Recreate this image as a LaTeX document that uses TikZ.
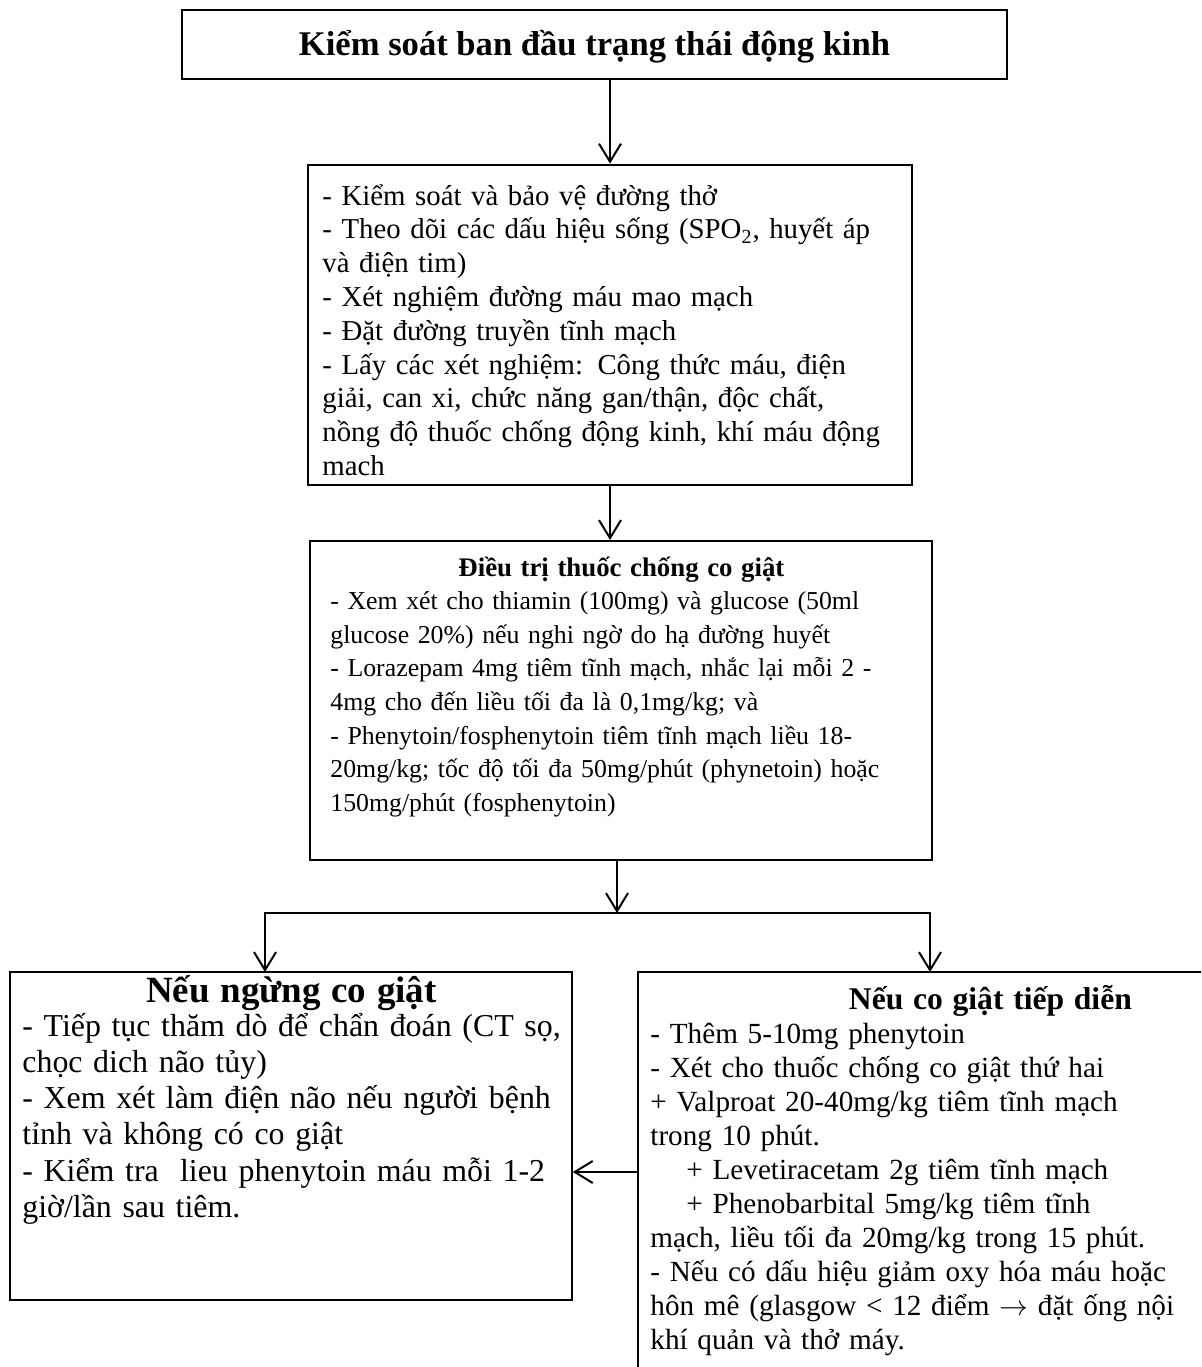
\documentclass[tikz,border=0pt]{standalone}
\usepackage{fontspec}
\setmainfont{Liberation Serif}
\usetikzlibrary{arrows.meta,fit}

\tikzset{
  box/.style={draw, inner sep=0pt, line width=#1},
  box/.default=1pt,
  txt/.style={inner sep=0pt, anchor=base west, align=left, text width=400pt},
  arr/.style={line width=1pt, -{Straight Barb[length=9pt,width=11pt,line width=1pt]}},
}

\begin{document}
\begin{tikzpicture}[x=0.5pt,y=-0.5pt]
  \useasboundingbox (0,0) rectangle (1201,1367);
  \clip (0,0) rectangle (1201,1367);

  % boxes
  \node[box=1.4pt, fit={(182,10) (1007,79)}] (start) {};
  \node[font=\fontsize{17.3}{20}\selectfont\bfseries] (title) at ([yshift=-1pt]start.center)
    {Kiểm soát ban đầu trạng thái động kinh};
  \node[box=1.4pt, fit={(308,165) (912,485)}] (care) {};
  \node[box=1pt, fit={(310,541) (932,860)}] (drug) {};
  \node[box=0.8pt, fit={(10,972) (572,1300)}] (stop) {};
  \node[box=0.8pt, fit={(638,972) (1342,1420)}] (cont) {};

  % texts
  \node[txt, font=\fontsize{14.4}{16.9}\selectfont] (caretxt) at (322,205)
    {- Kiểm soát và bảo vệ đường thở\\
     - Theo dõi các dấu hiệu sống (SPO\textsubscript{2}, huyết áp\\
     và điện tim)\\
     - Xét nghiệm đường máu mao mạch\\
     - Đặt đường truyền tĩnh mạch\\
     - Lấy các xét nghiệm: Công thức máu, điện\\
     giải, can xi, chức năng gan/thận, độc chất,\\
     nồng độ thuốc chống động kinh, khí máu động\\
     mach};
  \node[txt, font=\fontsize{12.9}{16.8}\selectfont] (drugtxt) at (330,576)
    {\makebox[291pt]{\fontsize{13.4}{16.8}\selectfont\bfseries Điều trị thuốc chống co giật}\\
     - Xem xét cho thiamin (100mg) và glucose (50ml\\
     glucose 20\%) nếu nghi ngờ do hạ đường huyết\\
     - Lorazepam 4mg tiêm tĩnh mạch, nhắc lại mỗi 2 -\\
     4mg cho đến liều tối đa là 0,1mg/kg; và\\
     - Phenytoin/fosphenytoin tiêm tĩnh mạch liều 18-\\
     20mg/kg; tốc độ tối đa 50mg/phút (phynetoin) hoặc\\
     150mg/phút (fosphenytoin)};
  \node[txt, font=\fontsize{15.95}{18.1}\selectfont] (stoptxt) at (22,1002)
    {\makebox[269pt]{\fontsize{18.5}{22}\selectfont\bfseries Nếu ngừng co giật}\\[-1pt]
     - Tiếp tục thăm dò để chẩn đoán (CT sọ,\\
     chọc dich não tủy)\\
     - Xem xét làm điện não nếu người bệnh\\
     tỉnh và không có co giật\\
     - Kiểm tra\ \ lieu phenytoin máu mỗi 1-2\\
     giờ/lần sau tiêm.};
  \node[txt, font=\fontsize{14.6}{17}\selectfont] (conttxt) at (650,1009)
    {\makebox[340pt]{\fontsize{15.8}{17}\selectfont\bfseries Nếu co giật tiếp diễn}\\
     - Thêm 5-10mg phenytoin\\
     - Xét cho thuốc chống co giật thứ hai\\
     + Valproat 20-40mg/kg tiêm tĩnh mạch\\
     trong 10 phút.\\
     \hspace*{18pt}+ Levetiracetam 2g tiêm tĩnh mạch\\
     \hspace*{18pt}+ Phenobarbital 5mg/kg tiêm tĩnh\\
     mạch, liều tối đa 20mg/kg trong 15 phút.\\
     - Nếu có dấu hiệu giảm oxy hóa máu hoặc\\
     hôn mê (glasgow < 12 điểm $\rightarrow$ đặt ống nội\\
     khí quản và thở máy.};

  % connectors
  \coordinate (split) at (617,913);
  \coordinate (left) at (265,972);
  \coordinate (right) at (930,972);
  \coordinate (back) at (0,1172);
  \draw[arr] (care.north |- start.south) -- (care.north);
  \draw[arr] (care.south) -- (care.south |- drug.north);
  \draw[arr] (split |- drug.south) -- (split);
  \draw[arr] (split) -| (left);
  \draw[arr] (split) -| (right);
  \draw[arr] (cont.west |- back) -- (stop.east |- back);
\end{tikzpicture}
\end{document}
